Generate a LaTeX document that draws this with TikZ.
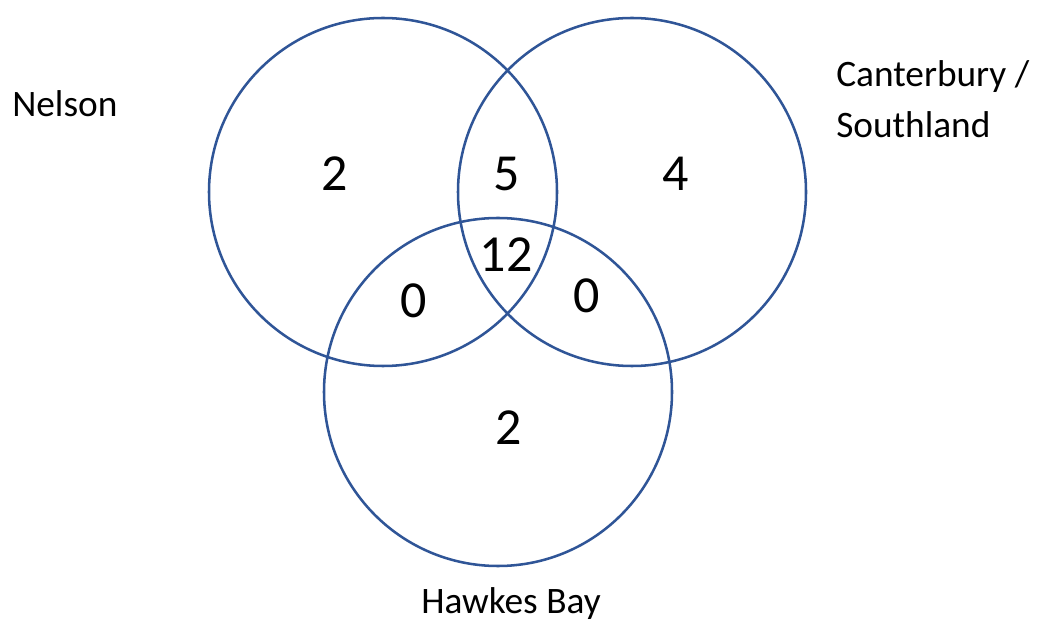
\documentclass[tikz,border=0pt]{standalone}
\usepackage{fontspec}
\setmainfont{Carlito}
\definecolor{vennblue}{HTML}{2F5597}
\begin{document}
\begin{tikzpicture}[x=0.75pt,y=-0.75pt,
  setcircle/.style={draw=vennblue,line width=1.9pt},
  count/.style={font=\fontsize{39}{44}\selectfont,inner sep=0pt},
  setlabel/.style={font=\fontsize{28}{37}\selectfont,inner sep=0pt,anchor=base west}]
\useasboundingbox (0,0) rectangle (1039,623);
\draw[setcircle] (383,192) circle[radius=174];
\draw[setcircle] (632,192) circle[radius=174];
\draw[setcircle] (498,392) circle[radius=174];
\node[count] (n1) at (335,174) {2};
\node[count] (n12) at (507,174) {5};
\node[count] (n2) at (676,174) {4};
\node[count] (n123) at (506,255) {12};
\node[count] (n13) at (414,301) {0};
\node[count] (n23) at (587,296) {0};
\node[count] (n3) at (509,428) {2};
\node[setlabel] (lnel) at (12,117) {Nelson};
\node[setlabel] (lcan) at (836,87) {Canterbury /};
\node[setlabel] (lsou) at (836,138) {Southland};
\node[setlabel] (lhaw) at (421,613) {Hawkes Bay};
\end{tikzpicture}
\end{document}
